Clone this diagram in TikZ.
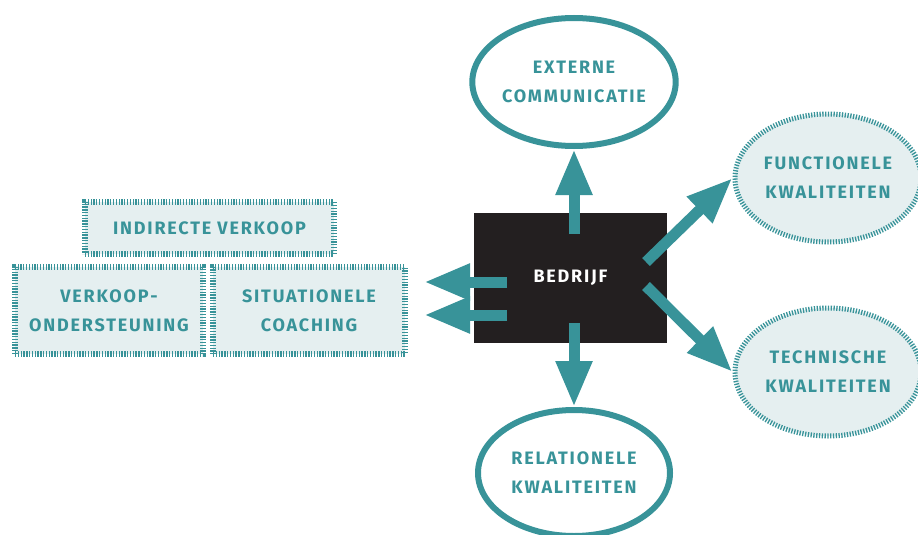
\documentclass[tikz,border=0pt]{standalone}
\usepackage{fontspec}
\setmainfont{Fira Sans}[LetterSpace=10]
\usetikzlibrary{shapes.geometric,arrows.meta,positioning}

\definecolor{petrol}{RGB}{56,147,153}
\definecolor{mist}{RGB}{229,239,240}
\definecolor{ink}{RGB}{35,31,32}

\tikzset{
  caps/.style={text=petrol, font=\bfseries\fontsize{18}{29}\selectfont, align=center},
  ring/.style={ellipse, draw=petrol, line width=6pt, inner sep=0pt,
    minimum width=192pt, minimum height=128pt, caps},
  fuzzy ring/.style={ellipse, draw=petrol, fill=mist, line width=5pt,
    dash pattern=on 1.3pt off 1.5pt, inner sep=0pt,
    minimum width=186pt, minimum height=128pt, caps},
  fuzzy box/.style={rectangle, draw=petrol, fill=mist, line width=6pt,
    dash pattern=on 1.3pt off 1.5pt, inner sep=0pt, caps},
  fat arrow/.style={draw=petrol, line width=11pt, -{Triangle[width=34pt,length=46pt]}},
}

\begin{document}
\begin{tikzpicture}[x=1pt,y=-1pt]
\useasboundingbox (0,0) rectangle (918,535);

% centre block
\node[fill=ink, minimum width=193pt, minimum height=130pt, inner sep=0pt,
  text=white, font=\bfseries\fontsize{18}{29}\selectfont] (bedrijf) at (570.5,278) {BEDRIJF};

% plain ovals above and below
\node[ring] (extern) at (574,82) {EXTERNE\\COMMUNICATIE};
\node[ring, minimum height=126pt] (relat) at (574,473) {RELATIONELE\\KWALITEITEN};

% fuzzy ovals on the right
\node[fuzzy ring] (funct) at (828,178) {FUNCTIONELE\\KWALITEITEN};
\node[fuzzy ring] (techn) at (828,372) {TECHNISCHE\\KWALITEITEN};

% fuzzy boxes on the left
\node[fuzzy box, minimum width=249pt, minimum height=52pt] (indirect) at (209.5,228) {INDIRECTE VERKOOP};
\node[fuzzy box, minimum width=188pt, minimum height=87pt] (onderst) at (109,310.5) {VERKOOP-\\ONDERSTEUNING};
\node[fuzzy box, minimum width=192pt, minimum height=87pt] (coaching) at (309,310.5) {SITUATIONELE\\COACHING};

% arrow ends
\coordinate (upfoot) at (574,234);
\coordinate (downfoot) at (574,323);
\coordinate (leftfootA) at (507,282);
\coordinate (leftfootB) at (507,315);
\coordinate (lefttipA) at (424,282);
\coordinate (lefttipB) at (424,315);
\coordinate (rightfootA) at (646,262);
\coordinate (rightfootB) at (646,286);

% arrows
\draw[fat arrow] (upfoot) -- (extern.south);
\draw[fat arrow] (downfoot) -- (relat.north);
\draw[fat arrow] (leftfootA) -- (lefttipA);
\draw[fat arrow] (leftfootB) -- (lefttipB);
\draw[fat arrow] (rightfootA) -- (funct.west);
\draw[fat arrow] (rightfootB) -- (techn.west);

\end{tikzpicture}
\end{document}
